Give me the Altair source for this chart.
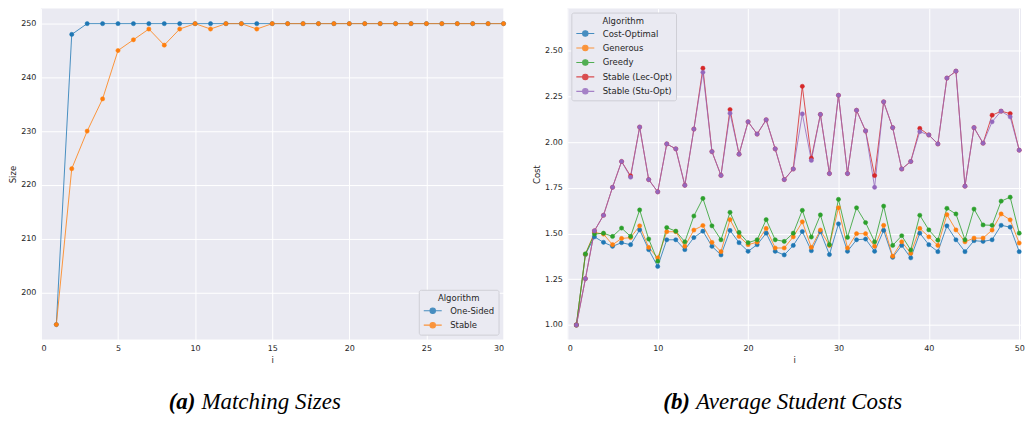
import altair as alt
import pandas as pd

# ---------------- data: (a) Matching Sizes ----------------
size_i = [1, 2, 3, 4, 5, 6, 7, 8, 9, 10, 11, 12, 13, 14, 15,
          16, 17, 18, 19, 20, 21, 22, 23, 24, 25, 26, 27, 28, 29, 30]
one_sided = [194, 248, 250, 250, 250, 250, 250, 250, 250, 250,
             250, 250, 250, 250, 250, 250, 250, 250, 250, 250,
             250, 250, 250, 250, 250, 250, 250, 250, 250, 250]
stable_size = [194, 223, 230, 236, 245, 247, 249, 246, 249, 250,
               249, 250, 250, 249, 250, 250, 250, 250, 250, 250,
               250, 250, 250, 250, 250, 250, 250, 250, 250, 250]
size_series = ["One-Sided", "Stable"]
size_colors = ["#1f77b4", "#ff7f0e"]
size_ticks_x = [0, 5, 10, 15, 20, 25, 30]
size_ticks_y = [200, 210, 220, 230, 240, 250]

# ---------------- data: (b) Average Student Costs ----------------
cost_i = list(range(1, 51))
cost_optimal = [1.00, 1.385, 1.482, 1.452, 1.430, 1.450, 1.439, 1.520, 1.412, 1.320,
                1.466, 1.466, 1.412, 1.478, 1.513, 1.430, 1.383, 1.517, 1.450, 1.403,
                1.439, 1.502, 1.403, 1.383, 1.435, 1.511, 1.406, 1.510, 1.385, 1.553,
                1.403, 1.466, 1.470, 1.403, 1.517, 1.370, 1.435, 1.367, 1.502, 1.439,
                1.401, 1.542, 1.466, 1.401, 1.461, 1.457, 1.466, 1.545, 1.535, 1.401]
generous = [1.00, 1.387, 1.506, 1.497, 1.439, 1.473, 1.478, 1.542, 1.424, 1.367,
            1.510, 1.510, 1.430, 1.519, 1.544, 1.452, 1.401, 1.576, 1.484, 1.439,
            1.453, 1.528, 1.421, 1.421, 1.482, 1.564, 1.424, 1.519, 1.435, 1.641,
            1.421, 1.499, 1.499, 1.430, 1.545, 1.376, 1.455, 1.392, 1.528, 1.482,
            1.435, 1.603, 1.520, 1.455, 1.475, 1.475, 1.519, 1.607, 1.575, 1.448]
greedy = [1.00, 1.389, 1.497, 1.502, 1.484, 1.530, 1.484, 1.629, 1.470, 1.349,
          1.533, 1.513, 1.455, 1.596, 1.692, 1.542, 1.466, 1.616, 1.506, 1.450,
          1.466, 1.576, 1.466, 1.457, 1.502, 1.627, 1.481, 1.602, 1.439, 1.687,
          1.479, 1.641, 1.560, 1.455, 1.650, 1.435, 1.488, 1.410, 1.600, 1.520,
          1.464, 1.638, 1.607, 1.466, 1.634, 1.547, 1.545, 1.677, 1.699, 1.502]
lec_opt = [1.00, 1.253, 1.515, 1.600, 1.753, 1.894, 1.815, 2.082, 1.795, 1.728,
           1.990, 1.963, 1.764, 2.071, 2.404, 1.948, 1.818, 2.178, 1.934, 2.111,
           2.044, 2.122, 1.963, 1.795, 1.853, 2.305, 1.912, 2.151, 1.828, 2.256,
           1.828, 2.174, 2.061, 1.817, 2.220, 2.079, 1.853, 1.894, 2.075, 2.039,
           1.990, 2.350, 2.388, 1.759, 2.079, 1.994, 2.147, 2.169, 2.156, 1.956]
stu_opt = [1.00, 1.253, 1.515, 1.600, 1.753, 1.894, 1.808, 2.082, 1.795, 1.728,
           1.990, 1.963, 1.764, 2.071, 2.382, 1.948, 1.818, 2.158, 1.934, 2.111,
           2.044, 2.122, 1.963, 1.795, 1.853, 2.154, 1.900, 2.151, 1.828, 2.256,
           1.828, 2.174, 2.061, 1.753, 2.220, 2.079, 1.853, 1.894, 2.057, 2.039,
           1.990, 2.350, 2.388, 1.759, 2.079, 1.994, 2.111, 2.169, 2.138, 1.956]
cost_series = ["Cost-Optimal", "Generous", "Greedy", "Stable (Lec-Opt)", "Stable (Stu-Opt)"]
cost_colors = ["#1f77b4", "#ff7f0e", "#2ca02c", "#d62728", "#9467bd"]
cost_ticks_x = [0, 10, 20, 30, 40, 50]
cost_ticks_y = [1.00, 1.25, 1.50, 1.75, 2.00, 2.25, 2.50]

caption_a = ["(a)", "Matching Sizes"]
caption_b = ["(b)", "Average Student Costs"]

# ---------------- tables ----------------
size_df = pd.concat([
    pd.DataFrame({"i": size_i, "Size": vals, "Algorithm": name})
    for name, vals in zip(size_series, [one_sided, stable_size])
], ignore_index=True)

cost_df = pd.concat([
    pd.DataFrame({"i": cost_i, "Cost": vals, "Algorithm": name})
    for name, vals in zip(cost_series, [cost_optimal, generous, greedy, lec_opt, stu_opt])
], ignore_index=True)

# legend glyph: a short line with a dot (matplotlib style); drawn wider than its nominal box
LEG_PATH = "M-2,0L2,0M-0.6,0A0.6,0.6,0,1,1,0.6,0A0.6,0.6,0,1,1,-0.6,0Z"
FONT = "DejaVu Sans"
TXT = "#262626"


def make_legend(orient, offset):
    return alt.Legend(
        title="Algorithm", orient=orient, offset=offset,
        symbolType=LEG_PATH, symbolSize=81, symbolStrokeWidth=1.1, symbolOffset=4.5,
        fillColor="#EAEAF2", strokeColor="#cfcfd6", cornerRadius=2,
        padding=4, titleAnchor="middle", titlePadding=3, rowPadding=3.5,
        labelFont=FONT, labelFontSize=8.5, labelColor=TXT, labelOffset=12,
        titleFont=FONT, titleFontSize=8.5, titleFontWeight="normal", titleColor=TXT,
    )


def panel(df, ycol, series, colors, xdom, ydom, xticks, yticks, yfmt, width, height,
          legend_orient, legend_offset, caption, cap_x):
    color_scale = alt.Scale(domain=series, range=colors)
    leg = make_legend(legend_orient, legend_offset)
    x = alt.X("i:Q", scale=alt.Scale(domain=xdom, nice=False, zero=False),
              axis=alt.Axis(values=xticks, title="i", format="d"))
    y = alt.Y(f"{ycol}:Q", scale=alt.Scale(domain=ydom, nice=False, zero=False),
              axis=alt.Axis(values=yticks, title=ycol, format=yfmt))
    base = alt.Chart(df)
    lines = base.mark_line(strokeWidth=1, opacity=0.8).encode(
        x=x, y=y,
        stroke=alt.Stroke("Algorithm:N", scale=color_scale, legend=leg, sort=series),
        detail="Algorithm:N",
    )
    points = base.mark_point(filled=True, size=18, opacity=1, strokeWidth=0.5).encode(
        x=x, y=y,
        fill=alt.Fill("Algorithm:N", scale=color_scale, legend=leg, sort=series),
        stroke=alt.Stroke("Algorithm:N", scale=color_scale, legend=leg, sort=series),
    )
    cap_df = pd.DataFrame({"t": caption})
    cap1 = alt.Chart(cap_df).transform_filter(alt.datum.t == caption[0]).mark_text(
        font="Liberation Serif", fontStyle="italic", fontWeight="bold", fontSize=23,
        align="right", baseline="alphabetic", color="#000000"
    ).encode(text="t:N", x=alt.value(cap_x), y=alt.value(402))
    cap2 = alt.Chart(cap_df).transform_filter(alt.datum.t == caption[1]).mark_text(
        font="Liberation Serif", fontStyle="italic", fontSize=23,
        align="left", baseline="alphabetic", color="#000000"
    ).encode(text="t:N", x=alt.value(cap_x + 6), y=alt.value(402))
    return alt.layer(lines, points, cap1, cap2).properties(width=width, height=height)


left = panel(size_df, "Size", size_series, size_colors, [0, 30], [191.2, 252.8],
             size_ticks_x, size_ticks_y, "d", 464, 332, "bottom-right", 5,
             caption_a, 155)
right = panel(cost_df, "Cost", cost_series, cost_colors, [0, 50.2], [0.92, 2.73],
              cost_ticks_x, cost_ticks_y, ".2f", 455, 332, "top-left", 4,
              caption_b, 123)

chart = alt.hconcat(left, right, spacing=25).resolve_scale(
    stroke="independent", fill="independent"
).resolve_legend(stroke="independent", fill="independent").properties(
    padding=0, background="white"
).configure_view(fill="#EAEAF2", stroke=None).configure_axis(
    grid=True, gridColor="#ffffff", gridWidth=1, domain=False, ticks=False, tickSize=0,
    labelFont=FONT, labelFontSize=8, labelColor=TXT, labelPadding=5,
    titleFont=FONT, titleFontSize=8.5, titleFontWeight="normal", titleColor=TXT,
    titlePadding=3,
)

chart.save("out.html", embed_options={"renderer": "svg", "actions": False})
